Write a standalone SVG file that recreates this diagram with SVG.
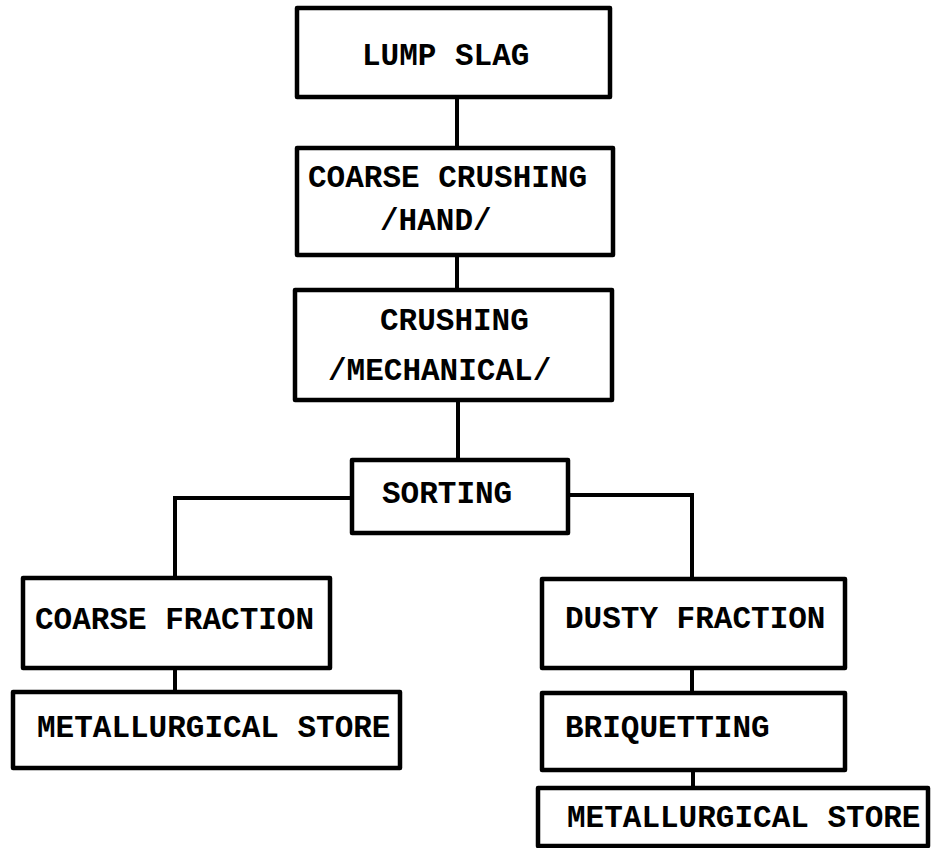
<svg xmlns="http://www.w3.org/2000/svg" width="935" height="848" viewBox="0 0 935 848">
  <style>
    .box { fill: #ffffff; stroke: #000000; stroke-width: 4.5; stroke-linejoin: round; }
    .wire { fill: none; stroke: #000000; stroke-width: 4; stroke-linejoin: miter; }
    .lbl { font-family: "Liberation Mono", "Courier New", monospace; font-weight: bold; font-size: 31px; fill: #000000; }
  </style>
  <rect x="0" y="0" width="935" height="848" fill="#ffffff"/>

  <!-- connectors -->
  <g id="connectors">
    <path class="wire" d="M457 97 V148"/>
    <path class="wire" d="M457 255 V290"/>
    <path class="wire" d="M458 400 V460"/>
    <path class="wire" d="M352 498 H175 V578"/>
    <path class="wire" d="M568 495 H692 V579"/>
    <path class="wire" d="M175 668 V692"/>
    <path class="wire" d="M692 668 V693"/>
    <path class="wire" d="M693 770 V788"/>
  </g>

  <g id="lump-slag">
    <rect class="box" x="297" y="8" width="313" height="89"/>
    <text class="lbl" x="362" y="65">LUMP SLAG</text>
  </g>

  <g id="coarse-crushing">
    <rect class="box" x="297" y="148" width="316" height="107"/>
    <text class="lbl" x="308" y="187">COARSE CRUSHING</text>
    <text class="lbl" x="380" y="230">/HAND/</text>
  </g>

  <g id="crushing">
    <rect class="box" x="295" y="290" width="317" height="110"/>
    <text class="lbl" x="380" y="330">CRUSHING</text>
    <text class="lbl" x="328" y="380">/MECHANICAL/</text>
  </g>

  <g id="sorting">
    <rect class="box" x="352" y="460" width="216" height="73"/>
    <text class="lbl" x="382" y="503">SORTING</text>
  </g>

  <g id="coarse-fraction">
    <rect class="box" x="23" y="578" width="307" height="90"/>
    <text class="lbl" x="35" y="629">COARSE FRACTION</text>
  </g>

  <g id="metallurgical-store-left">
    <rect class="box" x="13" y="692" width="387" height="76"/>
    <text class="lbl" x="37" y="737">METALLURGICAL STORE</text>
  </g>

  <g id="dusty-fraction">
    <rect class="box" x="542" y="579" width="303" height="89"/>
    <text class="lbl" x="565" y="628">DUSTY FRACTION</text>
  </g>

  <g id="briquetting">
    <rect class="box" x="542" y="693" width="303" height="77"/>
    <text class="lbl" x="565" y="737">BRIQUETTING</text>
  </g>

  <g id="metallurgical-store-right">
    <rect class="box" x="538" y="788" width="390" height="58"/>
    <text class="lbl" x="567" y="827">METALLURGICAL STORE</text>
  </g>
</svg>
